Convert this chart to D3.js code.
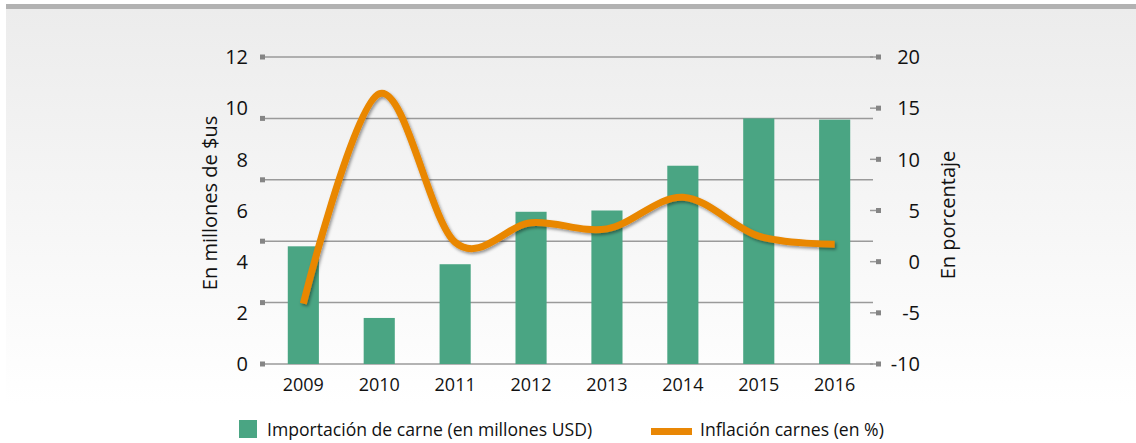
<!DOCTYPE html>
<html>
<head>
  <script src="https://d3js.org/d3.v7.min.js"></script>
  <style>
    body { margin: 0; background: #fff; }
    text { font-family: "Open Sans", sans-serif; fill: #111; }
  </style>
</head>
<body>
  <div id="chart"></div>
  <script>

  var years = ["2009", "2010", "2011", "2012", "2013", "2014", "2015", "2016"];
  var importacion = [4.6, 1.8, 3.9, 5.95, 6.0, 7.75, 9.6, 9.55];
  var inflacion = [-4.1, 16.4, 1.9, 3.8, 3.2, 6.3, 2.5, 1.7];
  var leftTicks = [0, 2, 4, 6, 8, 10, 12];
  var rightTicks = [-10, -5, 0, 5, 10, 15, 20];
  var legendLabels = ["Importación de carne (en millones USD)", "Inflación carnes (en %)"];

  var width = 1136,
      height = 443,
      plot = {left: 265, right: 873, top: 57, bottom: 364};

  var svg = d3.select("#chart").append("svg")
    .attr("width", width)
    .attr("height", height);

  var defs = svg.append("defs");

  var grad = defs.append("linearGradient")
    .attr("id", "bg")
    .attr("x1", 0).attr("y1", 0).attr("x2", 0).attr("y2", 1);
  grad.append("stop").attr("offset", "0%").attr("stop-color", "#ececec");
  grad.append("stop").attr("offset", "100%").attr("stop-color", "#ffffff");

  var shadow = defs.append("filter")
    .attr("id", "shadow")
    .attr("x", "-10%").attr("y", "-10%")
    .attr("width", "120%").attr("height", "120%");
  shadow.append("feDropShadow")
    .attr("dx", 1.5).attr("dy", 2)
    .attr("stdDeviation", 1.5)
    .attr("flood-color", "#000")
    .attr("flood-opacity", 0.4);

  // background panel + top band
  svg.append("rect")
    .attr("x", 6).attr("y", 9)
    .attr("width", width - 6).attr("height", 395)
    .attr("fill", "url(#bg)");
  svg.append("rect")
    .attr("x", 6).attr("y", 4)
    .attr("width", width - 6).attr("height", 5)
    .attr("fill", "#b2b2b2");

  var x = d3.scaleBand()
    .domain(years)
    .range([plot.left, plot.right])
    .paddingInner(0.59)
    .paddingOuter(0.3);

  var yLeft = d3.scaleLinear()
    .domain([0, 12])
    .range([plot.bottom, plot.top]);

  var yRight = d3.scaleLinear()
    .domain([-10, 20])
    .range([plot.bottom, plot.top]);

  // gridlines (5 intervals, as in the original)
  var grid = d3.scaleLinear().domain([0, 5]).range([plot.bottom, plot.top]);
  var gridVals = d3.range(0, 6);

  svg.append("g")
    .selectAll("line")
    .data(gridVals)
    .enter()
    .append("line")
    .attr("x1", plot.left)
    .attr("x2", plot.right)
    .attr("y1", function(d) { return grid(d); })
    .attr("y2", function(d) { return grid(d); })
    .attr("stroke", "#9a9a9a")
    .attr("stroke-width", 1.5);

  // left tick markers at the gridlines
  svg.append("g")
    .selectAll("rect")
    .data(gridVals)
    .enter()
    .append("rect")
    .attr("x", plot.left - 5)
    .attr("y", function(d) { return grid(d) - 2.5; })
    .attr("width", 5)
    .attr("height", 5)
    .attr("fill", "#858585");

  // left labels
  svg.append("g")
    .selectAll("text")
    .data(leftTicks)
    .enter()
    .append("text")
    .attr("x", 248)
    .attr("y", function(d) { return yLeft(d); })
    .attr("dy", "0.36em")
    .attr("text-anchor", "end")
    .style("font-size", "20px")
    .text(function(d) { return d; });

  // right ticks
  var rt = svg.append("g")
    .selectAll("g")
    .data(rightTicks)
    .enter()
    .append("g")
    .attr("transform", function(d) { return "translate(0," + yRight(d) + ")"; });
  rt.append("line")
    .attr("x1", 870).attr("x2", 877)
    .attr("stroke", "#9a9a9a")
    .attr("stroke-width", 1.5);
  rt.append("rect")
    .attr("x", 876).attr("y", -2.5)
    .attr("width", 5).attr("height", 5)
    .attr("fill", "#858585");
  rt.append("text")
    .attr("x", 920)
    .attr("dy", "0.36em")
    .attr("text-anchor", "end")
    .style("font-size", "20px")
    .text(function(d) { return d; });

  // bars
  svg.append("g")
    .selectAll("rect")
    .data(importacion)
    .enter()
    .append("rect")
    .attr("x", function(d, i) { return x(years[i]); })
    .attr("y", function(d) { return yLeft(d); })
    .attr("width", x.bandwidth())
    .attr("height", function(d) { return plot.bottom - yLeft(d); })
    .attr("fill", "#4aa583");

  // year labels
  svg.append("g")
    .selectAll("text")
    .data(years)
    .enter()
    .append("text")
    .attr("x", function(d) { return x(d) + x.bandwidth() / 2; })
    .attr("y", 391)
    .attr("text-anchor", "middle")
    .style("font-size", "18px")
    .text(function(d) { return d; });

  // smoothed line
  var line = d3.line()
    .curve(d3.curveCardinal)
    .x(function(d, i) { return x(years[i]) + x.bandwidth() / 2; })
    .y(function(d) { return yRight(d); });

  svg.append("path")
    .datum(inflacion)
    .attr("d", line)
    .attr("fill", "none")
    .attr("stroke", "#e98705")
    .attr("stroke-width", 7)
    .attr("filter", "url(#shadow)");

  // axis titles
  svg.append("text")
    .attr("transform", "translate(217,203) rotate(-90)")
    .attr("text-anchor", "middle")
    .style("font-size", "20px")
    .text("En millones de $us");

  svg.append("text")
    .attr("transform", "translate(955,215) rotate(-90)")
    .attr("text-anchor", "middle")
    .style("font-size", "20px")
    .text("En porcentaje");

  // legend
  var legend = svg.append("g");
  legend.append("rect")
    .attr("x", 239).attr("y", 420)
    .attr("width", 18).attr("height", 18)
    .attr("fill", "#4aa583");
  legend.append("text")
    .attr("x", 267).attr("y", 436)
    .style("font-size", "17.6px")
    .text(legendLabels[0]);
  legend.append("rect")
    .attr("x", 651).attr("y", 428)
    .attr("width", 41).attr("height", 7)
    .attr("fill", "#e98705");
  legend.append("text")
    .attr("x", 700).attr("y", 436)
    .style("font-size", "17.6px")
    .text(legendLabels[1]);

  </script>
</body>
</html>
